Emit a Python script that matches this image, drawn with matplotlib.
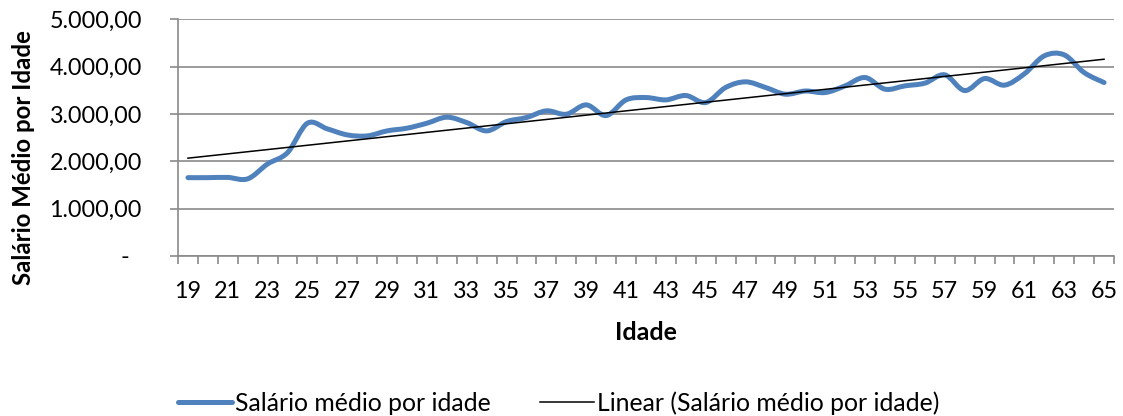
import numpy as np
import matplotlib
matplotlib.use("Agg")
import matplotlib.pyplot as plt
from matplotlib.path import Path
from matplotlib.patches import PathPatch
from matplotlib.lines import Line2D
from matplotlib.ticker import FixedLocator, FuncFormatter

ages = list(range(19, 66))
salario = [1655, 1655, 1660, 1630, 1945, 2184, 2805, 2685, 2558, 2537,
           2643, 2700, 2805, 2932, 2818, 2643, 2840, 2925, 3066, 2995,
           3192, 2967, 3298, 3347, 3298, 3390, 3242, 3560, 3679, 3560,
           3418, 3485, 3453, 3594, 3770, 3524, 3594, 3651, 3827, 3495,
           3748, 3609, 3848, 4228, 4249, 3875, 3664]
yticks = [0, 1000, 2000, 3000, 4000, 5000]
serie_label = "Salário médio por idade"
trend_label = "Linear (Salário médio por idade)"
xlabel = "Idade"
ylabel = "Salário Médio por Idade"

FONT = "Lato"
plt.rcParams['font.family'] = [FONT, 'DejaVu Sans']

W, H = 1123, 416
fig = plt.figure(figsize=(W / 100, H / 100), dpi=100)
L, R, T, B = 178, 1114, 19.3, 256
ax = fig.add_axes([L / W, 1 - B / H, (R - L) / W, (B - T) / H])

grid_c = "#8a8a8a"
blue = "#4F81BD"

# smoothed line (Bezier, like Excel's smoothed line)
x = np.array(ages, dtype=float)
y = np.array(salario, dtype=float)
pts = np.column_stack([x, y])
verts = [tuple(pts[0])]
codes = [Path.MOVETO]
n = len(pts)
for i in range(n - 1):
    p0 = pts[i - 1] if i > 0 else pts[i]
    p1 = pts[i]
    p2 = pts[i + 1]
    p3 = pts[i + 2] if i + 2 < n else pts[i + 1]
    c1 = p1 + (p2 - p0) / 6.0
    c2 = p2 - (p3 - p1) / 6.0
    verts += [tuple(c1), tuple(c2), tuple(p2)]
    codes += [Path.CURVE4] * 3
patch = PathPatch(Path(verts, codes), facecolor="none", edgecolor=blue,
                  linewidth=3.6, capstyle="round", joinstyle="round", zorder=3)
ax.add_patch(patch)

# linear trend
k, b0 = np.polyfit(x, y, 1)
ax.plot([x[0], x[-1]], [k * x[0] + b0, k * x[-1] + b0], color="black",
        linewidth=1.1, zorder=4)

ax.set_xlim(ages[0] - 0.5, ages[-1] + 0.5)
ax.set_ylim(0, 5000)

ax.set_yticks(yticks)
def yfmt(v, pos):
    if v == 0:
        return "-  "
    s = f"{v:,.2f}"
    return s.replace(",", "X").replace(".", ",").replace("X", ".")
ax.yaxis.set_major_formatter(FuncFormatter(yfmt))
ax.yaxis.grid(True, color=grid_c, linewidth=1.2)
ax.set_axisbelow(True)

# x ticks: category boundaries as marks, labels at every other category
ax.xaxis.set_major_locator(FixedLocator([a for a in ages[::2]]))
ax.set_xticklabels([str(a) for a in ages[::2]])
ax.xaxis.set_minor_locator(FixedLocator(list(np.arange(ages[0] - 0.5, ages[-1] + 1.0, 1.0))))
ax.tick_params(axis="x", which="major", length=0, pad=18, labelsize=16.8)
ax.tick_params(axis="x", which="minor", length=6, width=1.2, color=grid_c, direction="out")
ax.tick_params(axis="y", which="major", length=6, width=1.2, color=grid_c, direction="out",
               pad=20, labelsize=16.8)

for s in ["top", "right"]:
    ax.spines[s].set_visible(False)
for s in ["left", "bottom"]:
    ax.spines[s].set_color(grid_c)
    ax.spines[s].set_linewidth(1.2)

fig.text(646 / W, 1 - 333 / H, xlabel, ha="center", va="center",
         fontsize=18, fontweight="bold")
fig.text(24 / W, 1 - 158 / H, ylabel, ha="center", va="center",
         rotation=90, fontsize=17.3, fontweight="bold")

handles = [Line2D([], [], color=blue, linewidth=3.6, solid_capstyle="round"),
           Line2D([], [], color="black", linewidth=1.1)]
fig.legend(handles, [serie_label, trend_label], loc="center",
           bbox_to_anchor=(558.5 / W, 1 - 403 / H), ncol=2, frameon=False,
           fontsize=17.8, handlelength=2.2, handletextpad=0.1, columnspacing=2.0)

fig.savefig("out.png", dpi=100)
